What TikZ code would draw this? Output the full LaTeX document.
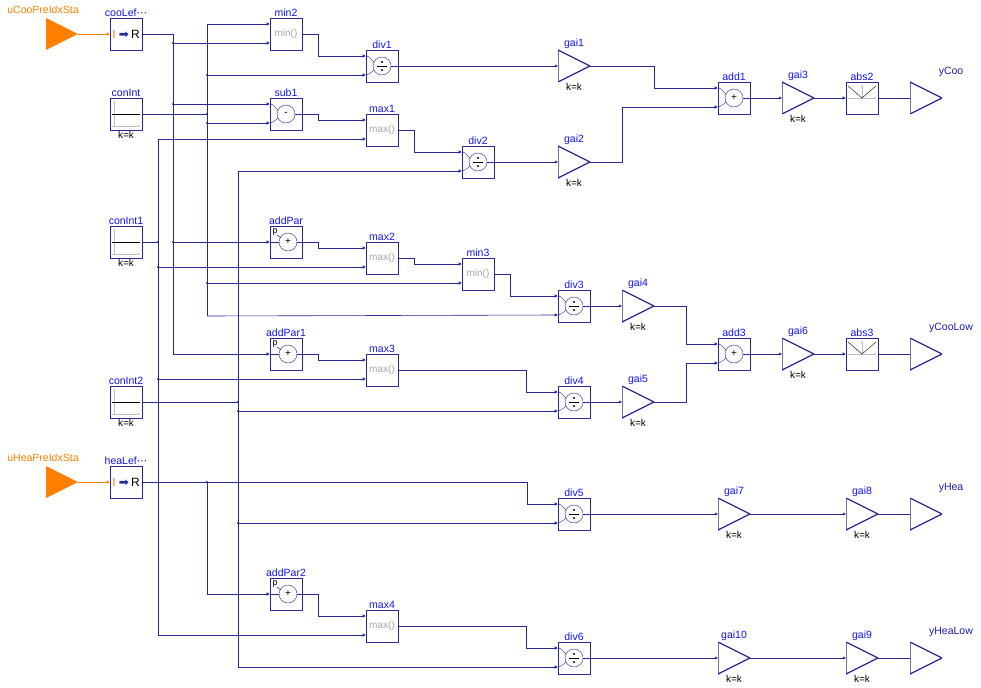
\documentclass[tikz,border=0pt]{standalone}
\usepackage{fontspec}
\setmainfont{Liberation Sans}
\newfontfamily\symfont{DejaVu Sans}
\usetikzlibrary{arrows.meta}
\definecolor{mblue}{RGB}{40,40,150}
\definecolor{nblue}{RGB}{20,20,240}
\definecolor{morange}{RGB}{255,128,0}
\def\c{path picture bounding box.center}
\newcommand\opicon{%
  \draw[mblue, thin] (\c) circle (9pt);
  \draw[mblue, thin] ([shift={(-16,-10)}]\c) to[out=0,in=150] ([shift={(-8,-4)}]\c);
  \draw[mblue, thin] ([shift={(-16,9)}]\c) to[out=0,in=210] ([shift={(-8,4)}]\c);
  \draw[mblue, thin] ([shift={(9,0)}]\c) -- ([shift={(16,0)}]\c);}
\tikzset{
  base/.style={draw=mblue, line width=0.6pt, fill=white, minimum size=32pt, inner sep=0pt, font=\fontsize{10}{10}\selectfont},
  nlbl/.style={text=nblue, inner sep=1pt, font=\fontsize{10.5}{11}\selectfont},
  klbl/.style={text=black, inner sep=1pt, font=\fontsize{10}{10}\selectfont},
  opb/.style={base, path picture={\opicon}},
  divb/.style={base, path picture={\opicon
      \draw[black, thin] ([shift={(-5,0)}]\c) -- ([shift={(5,0)}]\c);
      \fill[black] ([shift={(0,-4)}]\c) circle (1.2pt);
      \fill[black] ([shift={(0,4)}]\c) circle (1.2pt);}},
  addp/.style={base, path picture={
      \draw[mblue, thin] ([shift={(2,0)}]\c) circle (9pt);
      \node[font=\fontsize{9}{9}\selectfont, inner sep=0pt] at ([shift={(-11,-10)}]\c) {p};
      \draw[black, thin] ([shift={(-9,-7)}]\c) -- ([shift={(-5,-4)}]\c);
      \draw[mblue, thin] ([shift={(-16,0)}]\c) -- ([shift={(-7,0)}]\c);
      \draw[mblue, thin] ([shift={(11,0)}]\c) -- ([shift={(16,0)}]\c);}},
  mmb/.style={base, text=gray!70},
  conb/.style={base, path picture={
      \draw[gray!50, thin] ([shift={(-12,13)}]\c) -- ([shift={(-12,-13)}]\c);
      \draw[gray!50, thin, -{Triangle[length=2pt,width=2pt]}] ([shift={(-14,12)}]\c) -- ([shift={(14,12)}]\c);
      \draw[black, thin] ([shift={(-14,0)}]\c) -- ([shift={(14,0)}]\c);}},
  absb/.style={base, path picture={
      \draw[gray!50, thin, -{Triangle[length=2pt,width=2pt]}] ([shift={(-14,0)}]\c) -- ([shift={(14,0)}]\c);
      \draw[gray!50, thin, -{Triangle[length=2pt,width=2pt]}] (\c) -- ([shift={(0,-13)}]\c);
      \draw[black, thin] ([shift={(-14,-12)}]\c) -- (\c) -- ([shift={(14,-12)}]\c);}},
  conv/.style={base, font=\fontsize{12}{12}\selectfont},
  gainb/.style={minimum size=32pt, inner sep=0pt, path picture={
      \draw[mblue, line width=1.2pt] ([shift={(-16,-16)}]\c) -- ([shift={(16,0)}]\c) -- ([shift={(-16,16)}]\c) -- cycle;}},
  outb/.style={gainb},
  inb/.style={minimum size=32pt, inner sep=0pt, path picture={
      \fill[morange] ([shift={(-16,-16)}]\c) -- ([shift={(16,0)}]\c) -- ([shift={(-16,16)}]\c) -- cycle;}},
  wire/.style={draw=mblue, line width=0.6pt},
  arr/.style={wire, -{Triangle[length=3pt,width=3pt]}},
  dot/.style={circle, fill=mblue, inner sep=0pt, minimum size=2.2pt},
}
\newcommand\ports[1]{%
  \coordinate (#1-1) at ([yshift=10pt]#1.west);
  \coordinate (#1-2) at ([yshift=-9pt]#1.west);}
\begin{document}
\begin{tikzpicture}[x=1pt, y=-1pt]
  \useasboundingbox[fill=white] (0,0) rectangle (981,687);
  % inputs and converters
  \node[inb] (uCoo) at (62,34) {};
  \node[text=morange, inner sep=0pt, font=\fontsize{10.5}{11}\selectfont] (uCooLab) at (43,10) {uCooPreIdxSta};
  \node[conv, label={[nlbl]above:cooLef{\symfont ⋯}}] (cooLef) at (126,34) {{\color{morange}I} {\symfont\color{mblue}➡}\,R};
  \node[inb] (uHea) at (62,482) {};
  \node[text=morange, inner sep=0pt, font=\fontsize{10.5}{11}\selectfont] (uHeaLab) at (43,458) {uHeaPreIdxSta};
  \node[conv, label={[nlbl]above:heaLef{\symfont ⋯}}] (heaLef) at (126,482) {{\color{morange}I} {\symfont\color{mblue}➡}\,R};
  \node[conb, label={[nlbl]above:conInt}, label={[klbl]below:k=k}] (conInt) at (126,114) {};
  \node[conb, label={[nlbl]above:conInt1}, label={[klbl]below:k=k}] (conInt1) at (126,242) {};
  \node[conb, label={[nlbl]above:conInt2}, label={[klbl]below:k=k}] (conInt2) at (126,402) {};

  % math blocks
  \node[mmb, label={[nlbl]above:min2}] (min2) at (286,34) {min()};
  \node[opb, label={[nlbl]above:sub1}] (sub1) at (286,114) {-};
  \node[addp, label={[nlbl]above:addPar}] (addPar) at (286,242) {\hspace{4pt}+};
  \node[addp, label={[nlbl]above:addPar1}] (addPar1) at (286,354) {\hspace{4pt}+};
  \node[addp, label={[nlbl]above:addPar2}] (addPar2) at (286,594) {\hspace{4pt}+};
  \node[divb, label={[nlbl]above:div1}] (div1) at (382,66) {};
  \node[mmb, label={[nlbl]above:max1}] (max1) at (382,130) {max()};
  \node[mmb, label={[nlbl]above:max2}] (max2) at (382,258) {max()};
  \node[mmb, label={[nlbl]above:max3}] (max3) at (382,370) {max()};
  \node[mmb, label={[nlbl]above:max4}] (max4) at (382,626) {max()};
  \node[divb, label={[nlbl]above:div2}] (div2) at (478,162) {};
  \node[mmb, label={[nlbl]above:min3}] (min3) at (478,274) {min()};
  \node[divb, label={[nlbl]above:div3}] (div3) at (574,306) {};
  \node[divb, label={[nlbl]above:div4}] (div4) at (574,402) {};
  \node[divb, label={[nlbl]above:div5}] (div5) at (574,514) {};
  \node[divb, label={[nlbl]above:div6}] (div6) at (574,658) {};

  % gains, sums and outputs
  \node[gainb, label={[nlbl]above:gai1}, label={[klbl]below:k=k}] (gai1) at (574,66) {};
  \node[gainb, label={[nlbl]above:gai2}, label={[klbl]below:k=k}] (gai2) at (574,162) {};
  \node[gainb, label={[nlbl]above:gai4}, label={[klbl]below:k=k}] (gai4) at (638,306) {};
  \node[gainb, label={[nlbl]above:gai5}, label={[klbl]below:k=k}] (gai5) at (638,402) {};
  \node[opb, label={[nlbl]above:add1}] (add1) at (734,98) {+};
  \node[opb, label={[nlbl]above:add3}] (add3) at (734,354) {+};
  \node[gainb, label={[nlbl]above:gai7}, label={[klbl]below:k=k}] (gai7) at (734,514) {};
  \node[gainb, label={[nlbl]above:gai10}, label={[klbl]below:k=k}] (gai10) at (734,658) {};
  \node[gainb, label={[nlbl]above:gai3}, label={[klbl]below:k=k}] (gai3) at (798,98) {};
  \node[gainb, label={[nlbl]above:gai6}, label={[klbl]below:k=k}] (gai6) at (798,354) {};
  \node[absb, label={[nlbl]above:abs2}] (abs2) at (862,98) {};
  \node[absb, label={[nlbl]above:abs3}] (abs3) at (862,354) {};
  \node[gainb, label={[nlbl]above:gai8}, label={[klbl]below:k=k}] (gai8) at (862,514) {};
  \node[gainb, label={[nlbl]above:gai9}, label={[klbl]below:k=k}] (gai9) at (862,658) {};
  \node[outb] (yCoo) at (926,98) {};
  \node[outb] (yCooLow) at (926,354) {};
  \node[outb] (yHea) at (926,514) {};
  \node[outb] (yHeaLow) at (926,658) {};
  \node[nlbl, text=mblue!80!blue] (yCooLab) at (951,72) {yCoo};
  \node[nlbl, text=mblue!80!blue] (yCooLowLab) at (951,328) {yCooLow};
  \node[nlbl, text=mblue!80!blue] (yHeaLab) at (951,488) {yHea};
  \node[nlbl, text=mblue!80!blue] (yHeaLowLab) at (951,632) {yHeaLow};

  \foreach \b in {min2,sub1,div1,max1,max2,max3,max4,div2,min3,div3,div4,div5,div6,add1,add3}
    {\ports{\b}}

  % bus coordinates
  \coordinate (busCoo) at (173,354);
  \coordinate (busIntT) at (207,24);
  \coordinate (busIntB) at (207,316);
  \coordinate (busInt1T) at (158,139);
  \coordinate (busInt1B) at (158,635);
  \coordinate (busInt2T) at (238,171);
  \coordinate (busInt2B) at (238,667);
  \coordinate (busHea) at (207,594);

  % orange inputs
  \draw[morange, line width=0.6pt, -{Triangle[length=3pt,width=3pt]}] (uCoo.east) -- (cooLef.west);
  \draw[morange, line width=0.6pt, -{Triangle[length=3pt,width=3pt]}] (uHea.east) -- (heaLef.west);

  % cooLef bus
  \draw[arr] (cooLef.east) -| (busCoo) -- (addPar1.west);
  \draw[arr] (busCoo |- min2-2) node[dot] (j1) {} -- (min2-2);
  \draw[arr] (busCoo |- sub1-1) node[dot] (j2) {} -- (sub1-1);
  \draw[arr] (busCoo |- addPar.west) node[dot] (j3) {} -- (addPar.west);

  % conInt bus
  \draw[wire] (busIntT) -- (busIntB);
  \draw[arr] (busIntT) -- (min2-1);
  \draw[arr] (busIntB) -- (div3-2);
  \draw[wire] (conInt.east) -- (busIntT |- conInt.east) node[dot] (j4) {};
  \draw[arr] (busIntT |- div1-2) node[dot] (j5) {} -- (div1-2);
  \draw[arr] (busIntT |- sub1-2) node[dot] (j6) {} -- (sub1-2);
  \draw[arr] (busIntT |- min3-2) node[dot] (j7) {} -- (min3-2);

  % conInt1 bus
  \draw[wire] (busInt1T) -- (busInt1B);
  \draw[arr] (busInt1T) -- (max1-2);
  \draw[arr] (busInt1B) -- (max4-2);
  \draw[wire] (conInt1.east) -- (busInt1T |- conInt1.east) node[dot] (j8) {};
  \draw[arr] (busInt1T |- max2-2) node[dot] (j9) {} -- (max2-2);
  \draw[arr] (busInt1T |- max3-2) node[dot] (j10) {} -- (max3-2);

  % conInt2 bus
  \draw[wire] (busInt2T) -- (busInt2B);
  \draw[arr] (busInt2T) -- (div2-2);
  \draw[arr] (busInt2B) -- (div6-2);
  \draw[wire] (conInt2.east) -- (busInt2T |- conInt2.east) node[dot] (j11) {};
  \draw[arr] (busInt2T |- div4-2) node[dot] (j12) {} -- (div4-2);
  \draw[arr] (busInt2T |- div5-2) node[dot] (j13) {} -- (div5-2);

  % heaLef
  \draw[arr] (heaLef.east) -- ++(385,0) |- (div5-1);
  \draw[arr] (busHea |- heaLef.east) node[dot] (j14) {} -- (busHea) -- (addPar2.west);

  % chains
  \draw[arr] (min2.east) -- ++(16,0) |- (div1-1);
  \draw[arr] (sub1.east) -- ++(16,0) |- (max1-1);
  \draw[arr] (max1.east) -- ++(16,0) |- (div2-1);
  \draw[arr] (addPar.east) -- ++(16,0) |- (max2-1);
  \draw[arr] (max2.east) -- ++(16,0) |- (min3-1);
  \draw[arr] (min3.east) -- ++(16,0) |- (div3-1);
  \draw[arr] (addPar1.east) -- ++(16,0) |- (max3-1);
  \draw[arr] (max3.east) -- ++(128,0) |- (div4-1);
  \draw[arr] (addPar2.east) -- ++(16,0) |- (max4-1);
  \draw[arr] (max4.east) -- ++(128,0) |- (div6-1);
  \draw[arr] (div1.east) -- (gai1.west);
  \draw[arr] (div2.east) -- (gai2.west);
  \draw[arr] (gai1.east) -- ++(64,0) |- (add1-1);
  \draw[arr] (gai2.east) -- ++(32,0) |- (add1-2);
  \draw[arr] (add1.east) -- (gai3.west);
  \draw[arr] (gai3.east) -- (abs2.west);
  \draw[wire] (abs2.east) -- (yCoo.west);
  \draw[arr] (div3.east) -- (gai4.west);
  \draw[arr] (div4.east) -- (gai5.west);
  \draw[arr] (gai4.east) -- ++(32,0) |- (add3-1);
  \draw[arr] (gai5.east) -- ++(32,0) |- (add3-2);
  \draw[arr] (add3.east) -- (gai6.west);
  \draw[arr] (gai6.east) -- (abs3.west);
  \draw[wire] (abs3.east) -- (yCooLow.west);
  \draw[arr] (div5.east) -- (gai7.west);
  \draw[arr] (gai7.east) -- (gai8.west);
  \draw[wire] (gai8.east) -- (yHea.west);
  \draw[arr] (div6.east) -- (gai10.west);
  \draw[arr] (gai10.east) -- (gai9.west);
  \draw[wire] (gai9.east) -- (yHeaLow.west);
\end{tikzpicture}
\end{document}
